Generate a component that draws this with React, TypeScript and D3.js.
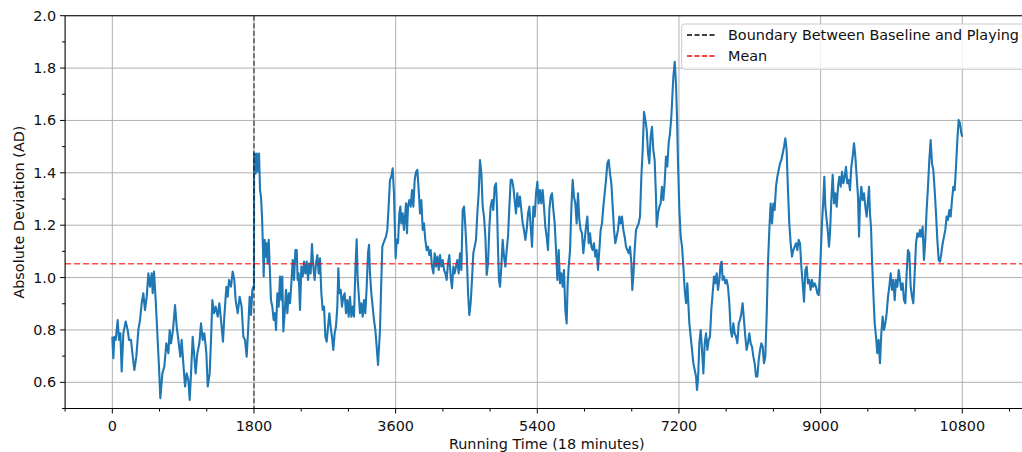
import React from "react";
import * as d3 from "d3";

// ---- Data ----
const baselinePhase: [number, number][] = [
  [0,0.774],[13,0.692],[26,0.774],[43,0.762],[68,0.838],[85,0.762],[102,0.787],[119,0.641],[140,0.787],[170,0.832],
  [195,0.800],[212,0.762],[238,0.762],[255,0.711],[280,0.647],[305,0.698],[331,0.800],[352,0.838],[373,0.902],[394,0.940],
  [415,0.876],[437,0.927],[458,1.016],[479,0.965],[500,1.016],[513,0.940],[530,1.023],[551,0.914],[572,0.787],[593,0.660],
  [610,0.539],[636,0.634],[661,0.660],[686,0.749],[712,0.711],[729,0.800],[746,0.749],[771,0.800],[797,0.895],[818,0.813],
  [839,0.762],[864,0.698],[881,0.762],[902,0.673],[924,0.584],[945,0.634],[966,0.609],[983,0.533],[1000,0.634],[1021,0.774],
  [1042,0.698],[1059,0.634],[1080,0.711],[1106,0.749],[1127,0.825],[1148,0.762],[1169,0.787],[1195,0.711],[1212,0.584],[1237,0.634],
  [1254,0.762],[1271,0.914],[1292,0.864],[1313,0.889],[1339,0.851],[1360,0.902],[1381,0.838],[1406,0.755],[1423,0.851],[1449,0.965],
  [1466,0.927],[1483,0.991],[1508,0.965],[1529,1.023],[1550,0.991],[1567,0.914],[1593,0.864],[1618,0.927],[1643,0.889],[1665,0.774],
  [1686,0.762],[1707,0.698],[1728,0.813],[1745,0.927],[1762,0.857],[1779,0.953],[1792,0.965],[1800,0.960],
];

const playingA: [number, number][] = [
  [1801,1.474],[1809,1.474],[1822,1.398],[1834,1.474],[1851,1.404],[1864,1.474],[1877,1.334],[1889,1.309],[1902,1.233],[1915,1.105],
  [1923,1.004],[1936,1.144],[1949,1.080],[1961,1.131],[1974,1.054],[1987,1.144],[2000,1.042],[2016,0.914],[2033,0.889],[2050,0.838],
  [2067,0.864],[2080,0.800],[2097,0.940],[2114,0.889],[2131,1.004],[2148,0.914],[2160,1.004],[2173,0.794],[2190,0.864],[2207,0.953],
  [2224,0.864],[2241,0.940],[2258,0.902],[2275,0.978],[2292,1.067],[2309,0.991],[2326,1.105],[2343,1.105],[2355,0.991],[2368,1.016],
  [2385,0.876],[2402,1.042],[2419,1.004],[2436,1.061],[2453,1.016],[2470,1.061],[2487,0.991],[2503,1.054],[2520,1.016],[2537,1.128],
  [2554,1.042],[2571,0.991],[2588,1.054],[2605,1.086],[2622,1.016],[2639,1.074],[2656,0.940],[2673,0.876],[2690,0.889],[2707,0.774],
  [2724,0.755],[2741,0.813],[2758,0.864],[2774,0.813],[2791,0.774],[2808,0.724],[2825,0.787],[2842,0.813],[2859,0.889],[2872,1.035],
  [2885,0.940],[2902,0.953],[2918,0.889],[2935,0.927],[2952,0.940],[2969,0.864],[2986,0.914],[3003,0.851],[3020,0.927],[3037,0.851],
  [3054,0.889],[3071,0.851],[3088,1.029],[3105,1.146],[3118,0.991],[3130,0.940],[3147,0.864],[3164,0.902],[3181,0.851],[3198,0.914],
  [3215,0.864],[3232,0.965],[3249,1.093],[3262,1.125],[3274,1.016],[3291,0.940],[3308,0.889],[3325,0.838],[3342,0.800],[3359,0.736],
  [3376,0.666],[3389,0.736],[3401,0.800],[3418,0.991],[3431,1.118],[3444,1.131],[3461,1.144],[3477,1.156],[3494,1.182],[3511,1.271],
  [3528,1.373],[3545,1.385],[3562,1.417],
];

const playingB: [number, number][] = [
  [3579,1.322],[3592,1.169],[3600,1.074],[3613,1.144],[3630,1.131],[3647,1.245],[3660,1.271],[3672,1.207],[3689,1.245],[3706,1.182],
  [3719,1.233],[3732,1.284],[3744,1.169],[3757,1.271],[3774,1.296],[3791,1.271],[3808,1.334],[3825,1.271],[3842,1.373],[3859,1.404],
  [3876,1.411],[3893,1.334],[3910,1.245],[3927,1.296],[3944,1.182],[3960,1.207],[3977,1.144],[3994,1.105],[4011,1.118],[4028,1.086],
  [4045,1.105],[4062,1.042],[4079,1.016],[4096,1.093],[4113,1.042],[4130,1.080],[4147,1.029],[4164,1.086],[4181,1.042],[4198,1.067],
  [4215,1.029],[4232,1.016],[4248,0.991],[4265,1.054],[4282,1.086],[4299,1.004],[4316,0.959],[4333,1.042],[4350,1.016],[4367,1.042],
  [4384,1.067],[4401,1.016],[4418,1.093],[4435,1.029],[4452,1.258],[4469,1.271],[4486,1.194],[4503,1.093],[4520,0.940],[4536,0.857],
  [4553,0.902],[4570,0.991],[4587,1.093],[4604,1.118],[4621,1.144],[4638,1.245],[4655,1.322],[4672,1.449],[4689,1.398],[4706,1.271],
  [4723,1.233],[4740,1.156],[4757,1.010],[4774,1.054],[4791,1.194],[4807,1.271],[4824,1.296],[4841,1.258],[4858,1.347],[4875,1.360],
  [4888,1.271],[4901,1.105],[4913,0.991],[4926,0.965],[4943,1.042],[4960,1.144],[4977,1.080],[4994,1.042],[5011,1.105],[5028,1.156],
  [5045,1.271],[5062,1.373],[5079,1.373],[5095,1.347],[5112,1.296],[5129,1.245],[5146,1.322],[5163,1.271],[5180,1.309],[5197,1.258],
  [5214,1.207],[5231,1.182],[5248,1.144],[5265,1.182],[5282,1.245],[5299,1.271],[5316,1.194],[5333,1.118],[5350,1.271],[5367,1.233],
];

const playingC: [number, number][] = [
  [5384,1.322],[5401,1.366],[5417,1.283],[5434,1.334],[5451,1.283],[5468,1.334],[5485,1.271],[5502,1.194],[5519,1.156],[5536,1.105],
  [5553,1.258],[5570,1.309],[5587,1.322],[5604,1.258],[5621,1.207],[5638,1.105],[5655,0.991],[5672,1.105],[5688,0.978],[5705,1.016],
  [5722,0.965],[5739,1.029],[5756,0.876],[5773,0.825],[5786,0.978],[5799,1.042],[5816,1.105],[5832,1.258],[5849,1.373],[5866,1.309],
  [5883,1.283],[5900,1.207],[5917,1.322],[5934,1.220],[5951,1.182],[5968,1.169],[5985,1.093],[6002,1.144],[6019,1.194],[6036,1.233],
  [6053,1.131],[6070,1.169],[6087,1.118],[6103,1.105],[6120,1.131],[6137,1.080],[6154,1.105],[6171,1.029],[6188,1.105],[6205,1.182],
  [6222,1.207],[6239,1.271],[6256,1.322],[6273,1.373],[6290,1.436],[6307,1.449],[6324,1.398],[6341,1.360],[6358,1.271],[6375,1.182],
  [6391,1.131],[6408,1.156],[6425,1.182],[6442,1.233],[6459,1.207],[6476,1.233],[6493,1.182],[6510,1.156],[6527,1.118],[6544,1.105],
  [6561,1.093],[6578,1.118],[6595,1.054],[6607,0.953],[6620,1.004],[6637,1.105],[6654,1.182],[6671,1.194],[6688,1.207],[6705,1.233],
  [6722,1.385],[6739,1.487],[6756,1.633],[6773,1.602],[6790,1.564],[6807,1.474],[6823,1.436],[6840,1.538],[6857,1.576],[6874,1.487],
  [6891,1.449],[6908,1.309],[6917,1.194],[6934,1.245],[6951,1.271],[6967,1.283],[6984,1.347],[7001,1.296],[7018,1.360],[7035,1.462],
  [7052,1.424],[7069,1.513],[7086,1.551],[7103,1.614],[7120,1.716],
];

const playingD: [number, number][] = [
  [7129,1.767],[7146,1.824],[7162,1.742],[7175,1.614],[7188,1.436],[7205,1.258],[7222,1.156],[7239,1.118],[7256,1.042],[7273,0.953],
  [7290,0.902],[7306,0.978],[7319,0.902],[7332,0.825],[7349,0.774],[7366,0.724],[7383,0.673],[7400,0.647],[7417,0.622],[7429,0.571],
  [7442,0.609],[7459,0.749],[7476,0.800],[7493,0.724],[7510,0.634],[7527,0.749],[7544,0.787],[7561,0.724],[7577,0.762],[7594,0.774],
  [7611,0.876],[7628,0.940],[7645,1.004],[7662,0.978],[7679,1.016],[7696,0.953],[7713,0.991],[7730,1.054],[7743,1.061],[7755,0.991],
  [7772,1.004],[7789,0.978],[7806,0.991],[7823,0.965],[7840,0.902],[7857,0.800],[7874,0.774],[7891,0.825],[7908,0.787],[7925,0.774],
  [7942,0.749],[7959,0.825],[7976,0.838],[7993,0.864],[8009,0.902],[8026,0.838],[8043,0.774],[8060,0.724],[8077,0.749],[8094,0.787],
  [8111,0.749],[8128,0.736],[8145,0.698],[8162,0.673],[8179,0.622],[8196,0.622],[8213,0.685],[8230,0.724],[8247,0.749],[8264,0.736],
  [8280,0.673],[8297,0.698],[8314,0.851],[8331,1.054],[8348,1.182],[8365,1.283],[8382,1.207],[8399,1.283],[8416,1.258],[8433,1.347],
  [8450,1.385],[8467,1.411],[8484,1.436],[8501,1.449],[8518,1.474],[8535,1.500],[8552,1.532],[8568,1.487],[8585,1.334],[8602,1.207],
  [8619,1.131],[8636,1.080],[8653,1.105],[8670,1.118],[8687,1.131],[8704,1.105],[8721,1.144],[8738,1.131],[8755,1.042],[8772,0.978],
  [8789,0.908],[8806,1.029],[8823,1.042],[8839,0.978],[8856,0.991],[8873,0.953],[8890,0.991],[8907,0.965],[8924,0.978],
];

const playingE: [number, number][] = [
  [8941,0.965],[8958,0.940],[8975,0.933],[8992,1.016],[9005,1.118],[9017,1.207],[9034,1.296],[9047,1.385],[9060,1.271],[9077,1.220],
  [9094,1.169],[9106,1.118],[9119,1.169],[9136,1.296],[9153,1.392],[9170,1.283],[9187,1.322],[9204,1.271],[9221,1.347],[9238,1.385],
  [9255,1.347],[9272,1.404],[9289,1.360],[9305,1.385],[9322,1.423],[9339,1.360],[9356,1.373],[9373,1.334],[9390,1.423],[9407,1.462],
  [9424,1.513],[9441,1.462],[9458,1.385],[9475,1.309],[9488,1.156],[9500,1.283],[9517,1.347],[9534,1.296],[9551,1.322],[9568,1.271],
  [9585,1.233],[9602,1.296],[9615,1.347],[9627,1.245],[9640,1.194],[9653,1.067],[9670,0.940],[9687,0.825],[9704,0.774],[9720,0.711],
  [9737,0.762],[9754,0.673],[9771,0.787],[9788,0.851],[9805,0.800],[9822,0.825],[9839,0.863],[9856,0.927],[9873,0.965],[9890,1.016],
  [9907,0.953],[9924,0.991],[9941,0.914],[9958,0.991],[9975,0.965],[9992,1.029],[10008,0.991],[10025,0.953],[10042,0.978],[10059,0.914],
  [10076,0.902],[10093,1.016],[10110,1.105],[10127,1.093],[10144,0.965],[10161,0.927],[10178,0.902],[10195,1.016],[10212,1.131],[10229,1.169],
  [10246,1.156],[10263,1.182],[10279,1.156],[10296,1.194],[10313,1.067],[10330,1.143],[10347,1.258],[10364,1.347],[10381,1.449],[10398,1.525],
  [10415,1.436],[10432,1.411],[10449,1.334],[10466,1.245],[10483,1.143],[10500,1.067],[10517,1.061],[10534,1.093],[10551,1.131],[10567,1.156],
  [10584,1.182],[10601,1.233],[10618,1.220],[10635,1.258],[10652,1.233],[10669,1.296],[10686,1.347],[10703,1.334],[10720,1.423],[10737,1.525],
  [10754,1.602],[10771,1.589],[10788,1.551],[10800,1.538],
];

const meanValue = 1.053;
const boundaryTime = 1800;

const xMajorTicks = [0, 1800, 3600, 5400, 7200, 9000, 10800];
const xMinorTicks = [-600, 600, 1200, 2400, 3000, 4200, 4800, 6000, 6600, 7800, 8400, 9600, 10200, 11400];
const yMajorTicks = [0.6, 0.8, 1.0, 1.2, 1.4, 1.6, 1.8, 2.0];
const yMinorTicks = [0.5, 0.7, 0.9, 1.1, 1.3, 1.5, 1.7, 1.9];

const xTitle = "Running Time (18 minutes)";
const yTitle = "Absolute Deviation (AD)";
const legendItems = [
  { label: "Boundary Between Baseline and Playing", color: "#000000" },
  { label: "Mean", color: "#ff0000" },
];

// ---- Layout ----
const W = 1022;
const H = 452;
const left = 65.1;
const right = 1028.4;
const top = 15.7;
const bottom = 408.5;
const FONT = "DejaVu Sans, sans-serif";
const FS = 14.4;

export default function App() {
  const series = [...baselinePhase, ...playingA, ...playingB, ...playingC, ...playingD, ...playingE];
  const x = d3.scaleLinear().domain([-600, 11640]).range([left, right]);
  const y = d3.scaleLinear().domain([0.5, 2.0]).range([bottom, top]);
  const line = d3
    .line<[number, number]>()
    .x((d) => x(d[0]))
    .y((d) => y(d[1]));

  const fmtY = d3.format(".1f");

  return (
    <svg width={W} height={H} style={{ position: "absolute", left: 0, top: 0, background: "#fff" }} fontFamily={FONT}>
      <defs>
        <clipPath id="plotClip">
          <rect x={left} y={top} width={right - left} height={bottom - top} />
        </clipPath>
      </defs>
      <rect x={0} y={0} width={W} height={H} fill="#fff" />
      {/* grid */}
      <g stroke="#b0b0b0" strokeWidth={1}>
        {xMajorTicks.map((t) => (
          <line key={"gx" + t} x1={x(t)} x2={x(t)} y1={top} y2={bottom} />
        ))}
        {yMajorTicks.map((t) => (
          <line key={"gy" + t} x1={left} x2={right} y1={y(t)} y2={y(t)} />
        ))}
      </g>
      <g clipPath="url(#plotClip)">
        <path d={line(series) || ""} fill="none" stroke="#1f77b4" strokeWidth={2.1} strokeLinejoin="round" />
        <line
          x1={x(boundaryTime)}
          x2={x(boundaryTime)}
          y1={top}
          y2={bottom}
          stroke="#000"
          strokeOpacity={0.7}
          strokeWidth={1.3}
          strokeDasharray="5,2.5"
        />
        <line
          x1={left}
          x2={right}
          y1={y(meanValue)}
          y2={y(meanValue)}
          stroke="#ff0000"
          strokeOpacity={0.7}
          strokeWidth={1.4}
          strokeDasharray="6,3"
        />
      </g>
      {/* spines */}
      <g stroke="#000" strokeWidth={1.1} fill="none">
        <line x1={left} x2={left} y1={top} y2={bottom} />
        <line x1={left} x2={right} y1={bottom} y2={bottom} />
        <line x1={left} x2={right} y1={top} y2={top} />
        <line x1={right} x2={right} y1={top} y2={bottom} />
      </g>
      {/* ticks */}
      <g stroke="#000" strokeWidth={1}>
        {xMajorTicks.map((t) => (
          <line key={"tx" + t} x1={x(t)} x2={x(t)} y1={bottom} y2={bottom + 5} />
        ))}
        {xMinorTicks.map((t) => (
          <line key={"mx" + t} x1={x(t)} x2={x(t)} y1={bottom} y2={bottom + 3} />
        ))}
        {yMajorTicks.map((t) => (
          <line key={"ty" + t} x1={left - 5} x2={left} y1={y(t)} y2={y(t)} />
        ))}
        {yMinorTicks.map((t) => (
          <line key={"my" + t} x1={left - 3} x2={left} y1={y(t)} y2={y(t)} />
        ))}
      </g>
      <g fontSize={FS} fill="#111">
        {xMajorTicks.map((t) => (
          <text key={"lx" + t} x={x(t)} y={430.5} textAnchor="middle">
            {t}
          </text>
        ))}
        {yMajorTicks.map((t) => (
          <text key={"ly" + t} x={left - 9} y={y(t)} textAnchor="end" dominantBaseline="central">
            {fmtY(t)}
          </text>
        ))}
      </g>
      <text x={(left + right) / 2} y={449} textAnchor="middle" fontSize={FS} fill="#111">
        {xTitle}
      </text>
      <text
        transform={`translate(${23.5},${(top + bottom) / 2}) rotate(-90)`}
        textAnchor="middle"
        fontSize={FS}
        fill="#111"
      >
        {yTitle}
      </text>
      {/* legend */}
      <g>
        <rect x={681.7} y={24} width={345} height={45.3} rx={3} fill="#fff" fillOpacity={0.8} stroke="#cccccc" strokeWidth={1} />
        {legendItems.map((item, i) => {
          const cy = 35 + i * 21;
          return (
            <g key={item.label}>
              <line x1={687} x2={715} y1={cy} y2={cy} stroke={item.color} strokeWidth={1.5} strokeDasharray="5,2.5" />
              <text x={728} y={cy} dominantBaseline="central" fontSize={FS} fill="#111">
                {item.label}
              </text>
            </g>
          );
        })}
      </g>
    </svg>
  );
}
